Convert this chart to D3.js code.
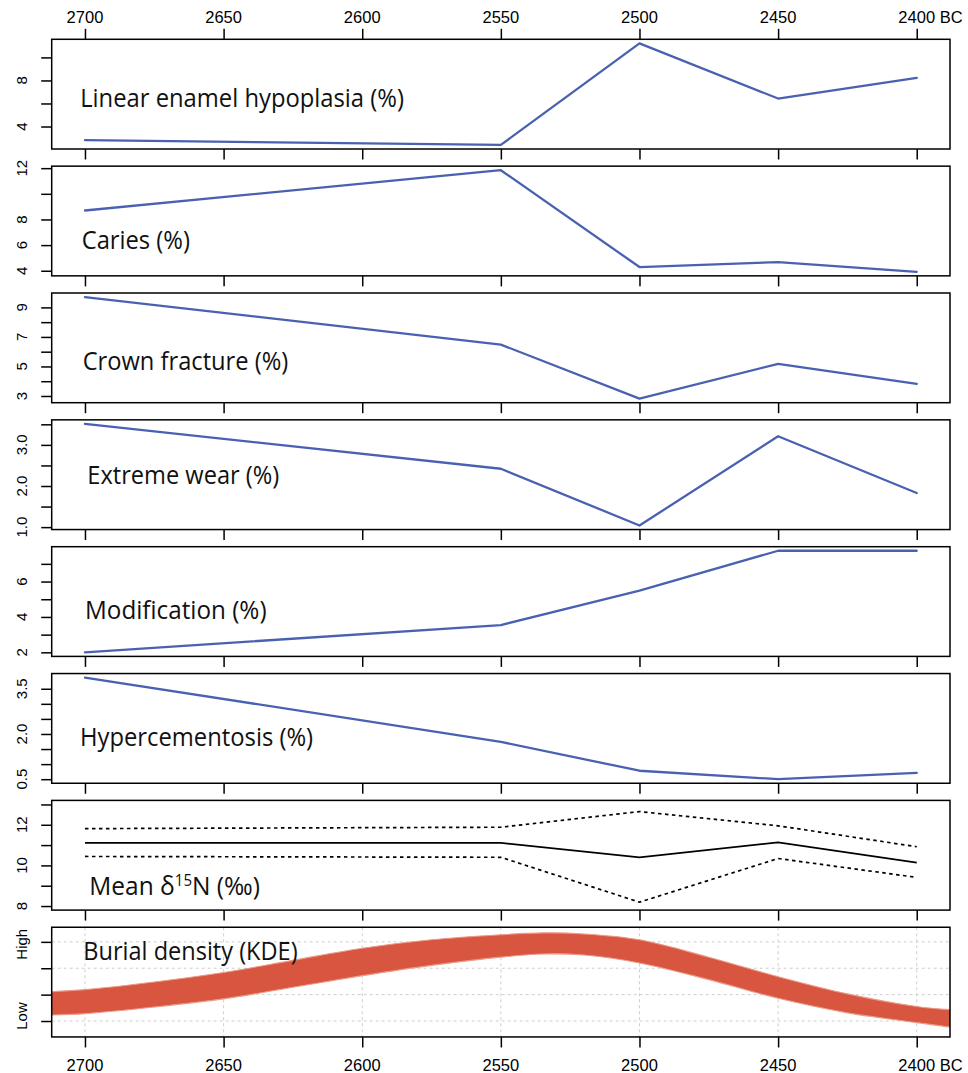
<!DOCTYPE html>
<html>
<head>
<meta charset="utf-8">
<script src="https://cdn.jsdelivr.net/npm/d3@7"></script>
<style>
  html, body { margin: 0; padding: 0; background: #fff; }
  svg { display: block; }
</style>
</head>
<body>
<svg id="chart" width="968" height="1073"></svg>
<script>
// ---- data -------------------------------------------------------------
// Time axis, years BC (runs right-to-left in time: 2700 on the left)
const axisYears = [2700, 2650, 2600, 2550, 2500, 2450, 2400];
const sampleYears = [2700, 2550, 2500, 2450, 2400];

// Dental indicators (%) per period
const lehValues = [2.81, 2.40, 11.22, 6.43, 8.23];
const cariesValues = [8.70, 11.84, 4.29, 4.68, 3.92];
const crownFractureValues = [9.70, 6.48, 2.82, 5.18, 3.82];
const extremeWearValues = [3.51, 2.42, 1.04, 3.21, 1.83];
const modificationValues = [2.00, 3.54, 5.49, 7.74, 7.74];
const hypercementosisValues = [3.87, 1.74, 0.78, 0.50, 0.71];

// Nitrogen isotopes (per mil): mean and +/- 1 sd envelope
const nitrogenMean = [11.11, 11.11, 10.40, 11.13, 10.14];
const nitrogenUpper = [11.81, 11.88, 12.65, 11.95, 10.92];
const nitrogenLower = [10.44, 10.40, 8.19, 10.34, 9.41];
const nitrogenLimits = [8, 13];

// Burial density (kernel density estimate envelope, relative units)
const densityYears = [2712, 2700, 2675, 2650, 2625, 2600, 2575, 2550, 2535, 2520, 2500, 2475, 2450, 2425, 2400, 2388];
const densityUpper = [2.11, 2.19, 2.48, 2.84, 3.30, 3.76, 4.08, 4.27, 4.34, 4.30, 4.08, 3.42, 2.68, 2.03, 1.55, 1.43];
const densityLower = [1.23, 1.28, 1.53, 1.84, 2.28, 2.72, 3.11, 3.42, 3.54, 3.50, 3.20, 2.57, 1.86, 1.31, 0.94, 0.77];
const densityLimits = [0.55, 4.4];
const densityTicks = [1, 2, 3, 4];
const densityTickLabels = ["Low", "High"];
const densityLabelAt = [1.19, 3.91];

// Tick values and the subset that carries a label, per panel
const lehTicks = [4, 6, 8, 10],            lehLabels = [4, 8];
const cariesTicks = [4, 6, 8, 10, 12],     cariesLabels = [4, 6, 8, 12];
const crownTicks = [3, 4, 5, 6, 7, 8, 9],  crownLabels = [3, 5, 7, 9];
const wearTicks = [1, 1.5, 2, 2.5, 3, 3.5], wearLabels = [1, 2, 3];
const modTicks = [2, 3, 4, 5, 6, 7],       modLabels = [2, 4, 6];
const hyperTicks = [0.5, 1, 1.5, 2, 2.5, 3, 3.5], hyperLabels = [0.5, 2, 3.5];
const nitroTicks = [8, 9, 10, 11, 12, 13], nitroLabels = [8, 10, 12];

// ---- layout -----------------------------------------------------------
const W = 968;
const frameLeft = 51.7, frameRight = 950;
const firstTop = 39.3, panelStep = 126.85, panelH = 109.7;
const blue = "#4a61b2";
const band = "#d8553f";
const labelFont = "'Liberation Sans', Arial, Helvetica, sans-serif";
const titleFont = "'Open Sans', 'Noto Sans', sans-serif";

const svg = d3.select("#chart");

const x = d3.scaleLinear()
  .domain([2700 + 0.04 * 300, 2400 - 0.04 * 300])
  .range([frameLeft, frameRight]);

function padded(lo, hi) {
  const r = hi - lo;
  return [lo - 0.04 * r, hi + 0.04 * r];
}

const panels = [
  { title: "Linear enamel hypoplasia (%)", values: lehValues, ticks: lehTicks, labels: lehLabels, fmt: d3.format("d"),
    tx: 80.2, ty: 67.2, tw: 324 },
  { title: "Caries (%)", values: cariesValues, ticks: cariesTicks, labels: cariesLabels, fmt: d3.format("d"),
    tx: 81.7, ty: 82.8, tw: 108.3 },
  { title: "Crown fracture (%)", values: crownFractureValues, ticks: crownTicks, labels: crownLabels, fmt: d3.format("d"),
    tx: 82.7, ty: 77.4, tw: 205.6 },
  { title: "Extreme wear (%)", values: extremeWearValues, ticks: wearTicks, labels: wearLabels, fmt: d3.format(".1f"),
    tx: 87.3, ty: 63.7, tw: 192 },
  { title: "Modification (%)", values: modificationValues, ticks: modTicks, labels: modLabels, fmt: d3.format("d"),
    tx: 85, ty: 72.3, tw: 181.7 },
  { title: "Hypercementosis (%)", values: hypercementosisValues, ticks: hyperTicks, labels: hyperLabels, fmt: d3.format(".1f"),
    tx: 80, ty: 72.4, tw: 233.3 },
  { title: "nitrogen", limits: nitrogenLimits, ticks: nitroTicks, labels: nitroLabels, fmt: d3.format("d"),
    tx: 89.3, ty: 95, tw: 170.7 },
  { title: "Burial density (KDE)", limits: densityLimits, ticks: densityTicks, labels: null,
    tx: 83.3, ty: 32.7, tw: 214.4 }
];

function fitTitle(t, left, baseline, width) {
  t.attr("transform", null);
  const w = t.node().getBBox().width;
  t.attr("transform", `translate(${left},${baseline}) scale(${width / w},1)`);
}

panels.forEach((p, i) => {
  const top = firstTop + i * panelStep;
  const bottom = top + panelH;
  const lim = p.limits ? p.limits : d3.extent(p.values);
  const y = d3.scaleLinear().domain(padded(lim[0], lim[1])).range([bottom, top]);
  const g = svg.append("g");

  // light dotted grid on the density panel
  if (i === 7) {
    const grid = g.append("g").attr("stroke", "#cfcfcf").attr("stroke-width", 1).attr("stroke-dasharray", "3,3");
    axisYears.forEach(yr => grid.append("line")
      .attr("x1", x(yr)).attr("x2", x(yr)).attr("y1", top).attr("y2", bottom));
    densityTicks.forEach(v => grid.append("line")
      .attr("x1", frameLeft).attr("x2", frameRight).attr("y1", y(v)).attr("y2", y(v)));
  }

  // plotted series
  const clipId = "clip" + i;
  svg.append("clipPath").attr("id", clipId).append("rect")
    .attr("x", frameLeft).attr("y", top).attr("width", frameRight - frameLeft).attr("height", panelH);
  const plot = g.append("g").attr("clip-path", `url(#${clipId})`);

  if (p.values) {
    const line = d3.line().x((d, k) => x(sampleYears[k])).y(d => y(d));
    plot.append("path").datum(p.values).attr("d", line)
      .attr("fill", "none").attr("stroke", blue).attr("stroke-width", 2.3)
      .attr("stroke-linejoin", "round").attr("stroke-linecap", "round");
  } else if (i === 6) {
    const line = d3.line().x((d, k) => x(sampleYears[k])).y(d => y(d));
    [nitrogenUpper, nitrogenLower].forEach(s => plot.append("path").datum(s).attr("d", line)
      .attr("fill", "none").attr("stroke", "#000").attr("stroke-width", 1.7)
      .attr("stroke-dasharray", "3.5,3.5"));
    plot.append("path").datum(nitrogenMean).attr("d", line)
      .attr("fill", "none").attr("stroke", "#000").attr("stroke-width", 1.7);
  } else {
    const idx = d3.range(densityYears.length);
    const area = d3.area().curve(d3.curveCatmullRom.alpha(0.5))
      .x(k => x(densityYears[k])).y0(k => y(densityLower[k])).y1(k => y(densityUpper[k]));
    plot.append("path").datum(idx).attr("d", area).attr("fill", band);
    const edge = d3.line().curve(d3.curveCatmullRom.alpha(0.5)).x(k => x(densityYears[k]));
    [densityUpper, densityLower].forEach(s => plot.append("path").datum(idx)
      .attr("d", edge.y(k => y(s[k])))
      .attr("fill", "none").attr("stroke", "#ec9a88").attr("stroke-width", 1.1));
  }

  // frame
  g.append("rect").attr("x", frameLeft).attr("y", top)
    .attr("width", frameRight - frameLeft).attr("height", panelH)
    .attr("fill", "none").attr("stroke", "#000").attr("stroke-width", 1.5);

  // left axis
  const ya = g.append("g").attr("transform", `translate(${frameLeft},0)`)
    .call(d3.axisLeft(y).tickValues(p.ticks).tickSize(10.5).tickSizeOuter(0).tickFormat(""));
  ya.select(".domain").remove();
  ya.selectAll(".tick line").attr("stroke", "#000").attr("stroke-width", 1.5);

  const ylab = g.append("g").attr("font-family", labelFont).attr("font-size", 15).attr("fill", "#000")
    .attr("text-anchor", "middle");
  if (p.labels) {
    p.labels.forEach(v => ylab.append("text")
      .attr("transform", `translate(26.5,${y(v)}) rotate(-90)`).text(p.fmt(v)));
  } else {
    densityTickLabels.forEach((s, k) => ylab.append("text")
      .attr("transform", `translate(26.5,${y(densityLabelAt[k])}) rotate(-90)`).text(s));
  }

  // bottom ticks on every panel, labelled on the last
  const xa = g.append("g").attr("transform", `translate(0,${bottom})`)
    .call(d3.axisBottom(x).tickValues(axisYears).tickSize(10.5).tickSizeOuter(0).tickFormat(""));
  xa.select(".domain").remove();
  xa.selectAll(".tick line").attr("stroke", "#000").attr("stroke-width", 1.5);

  // panel title
  const t = g.append("text").attr("font-family", titleFont).attr("font-size", 26).attr("fill", "#111");
  if (i === 6) {
    t.append("tspan").text("Mean \u03B4");
    t.append("tspan").attr("font-size", 16).attr("dy", -9).text("15");
    t.append("tspan").attr("dy", 9).text("N (\u2030)");
  } else {
    t.text(p.title);
  }
  fitTitle(t, p.tx, top + p.ty, p.tw);

  // year labels above the first panel and below the last
  if (i === 0 || i === 7) {
    const yl = g.append("g").attr("font-family", labelFont).attr("font-size", 16.5).attr("fill", "#000");
    const base = i === 0 ? 23.3 : 1071;
    if (i === 0) {
      const ta = g.append("g").attr("transform", `translate(0,${top})`)
        .call(d3.axisTop(x).tickValues(axisYears).tickSize(10.5).tickSizeOuter(0).tickFormat(""));
      ta.select(".domain").remove();
      ta.selectAll(".tick line").attr("stroke", "#000").attr("stroke-width", 1.5);
    }
    axisYears.forEach(yr => {
      const lab = yl.append("text").attr("x", x(yr)).attr("y", base)
        .attr("text-anchor", "middle").text(yr);
      if (yr === 2400) {
        const bb = lab.node().getBBox();
        yl.append("text").attr("x", bb.x + bb.width + 4.6).attr("y", base).text("BC");
      }
    });
  }
});
</script>
</body>
</html>
